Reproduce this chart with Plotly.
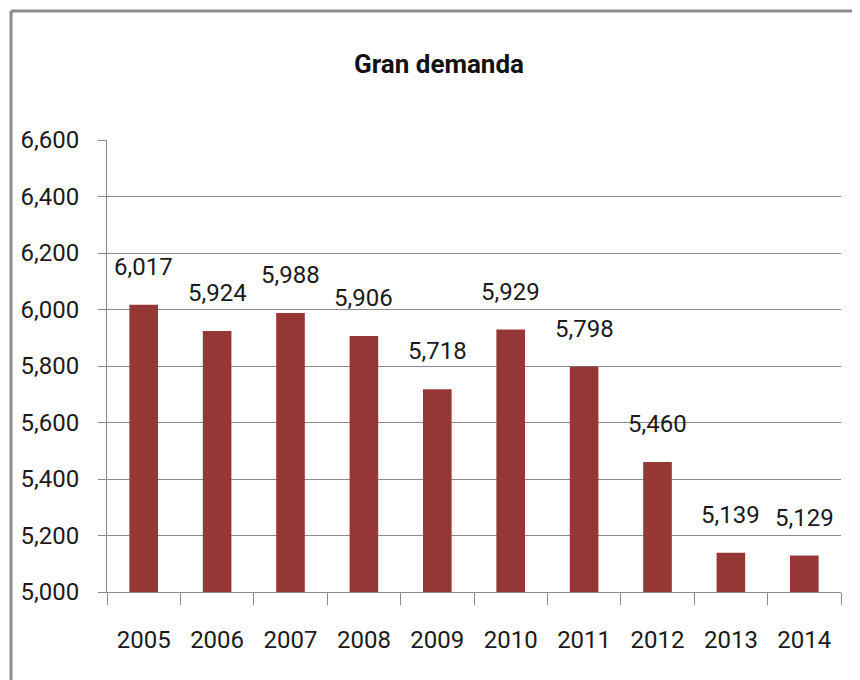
import plotly.graph_objects as go

years = ["2005", "2006", "2007", "2008", "2009", "2010", "2011", "2012", "2013", "2014"]
values = [6017, 5924, 5988, 5906, 5718, 5929, 5798, 5460, 5139, 5129]
y_ticks = [5000, 5200, 5400, 5600, 5800, 6000, 6200, 6400, 6600]
title_text = "Gran demanda"

FONT = "Roboto, Liberation Sans, sans-serif"
BAR = "#953735"
GRID = "#8a8a8a"
TXT = "#1a1a1a"

# the page body has an 8px margin; size the figure to fill the window
OFF = 8
W, H = 860 - OFF, 680 - OFF
# plot area in window pixels
PL, PR, PT, PB = 107, 841, 140, 592
L, T = PL - OFF, PT - OFF
R, B = W - (PR - OFF), H - (PB - OFF)
pw, ph = W - L - R, H - T - B

def px_x(x):
    return (x - PL) / pw

def px_y(y):
    return (PB - y) / ph

fig = go.Figure()
fig.add_trace(go.Bar(x=years, y=values, marker_color=BAR, marker_line_width=0,
                     hoverinfo="x+y"))

for i, v in enumerate(values):
    fig.add_annotation(x=i, y=v, text=f"{v:,}", showarrow=False,
                       yanchor="bottom", yshift=22,
                       font=dict(family=FONT, size=24, color=TXT))

fig.add_shape(type="line", xref="paper", yref="paper",
              x0=px_x(11), x1=px_x(860), y0=px_y(11), y1=px_y(11),
              line=dict(color="#8c8c8c", width=3))
fig.add_shape(type="line", xref="paper", yref="paper",
              x0=px_x(11), x1=px_x(11), y0=px_y(11), y1=px_y(690),
              line=dict(color="#8c8c8c", width=3))

fig.update_layout(
    width=W, height=H,
    margin=dict(l=L, r=R, t=T, b=B),
    paper_bgcolor="white", plot_bgcolor="white",
    bargap=0.61,
    showlegend=False,
    title=dict(text=f"<b>{title_text}</b>", x=(439 - OFF) / W, xanchor="center",
               y=1 - (64 - OFF) / H, yanchor="middle", xref="container", yref="container",
               font=dict(family=FONT, size=26, color="#111")),
    font=dict(family=FONT, size=24, color=TXT),
)
fig.update_xaxes(
    type="category", range=[-0.5, len(years) - 0.5],
    showline=True, linecolor=GRID, linewidth=1,
    ticks="outside", tickson="boundaries", ticklen=12, tickcolor=GRID,
    ticklabelstandoff=26, showgrid=False, tickangle=0,
    tickfont=dict(family=FONT, size=24, color=TXT),
)
fig.update_yaxes(
    range=[5000, 6600], tickvals=y_ticks, tickformat=",",
    showline=True, linecolor=GRID, linewidth=1,
    ticks="outside", ticklen=8, tickcolor=GRID,
    showgrid=True, gridcolor=GRID, gridwidth=1, zeroline=False,
    ticklabelstandoff=14,
    tickfont=dict(family=FONT, size=24, color=TXT),
)

fig.write_html("out.html")
